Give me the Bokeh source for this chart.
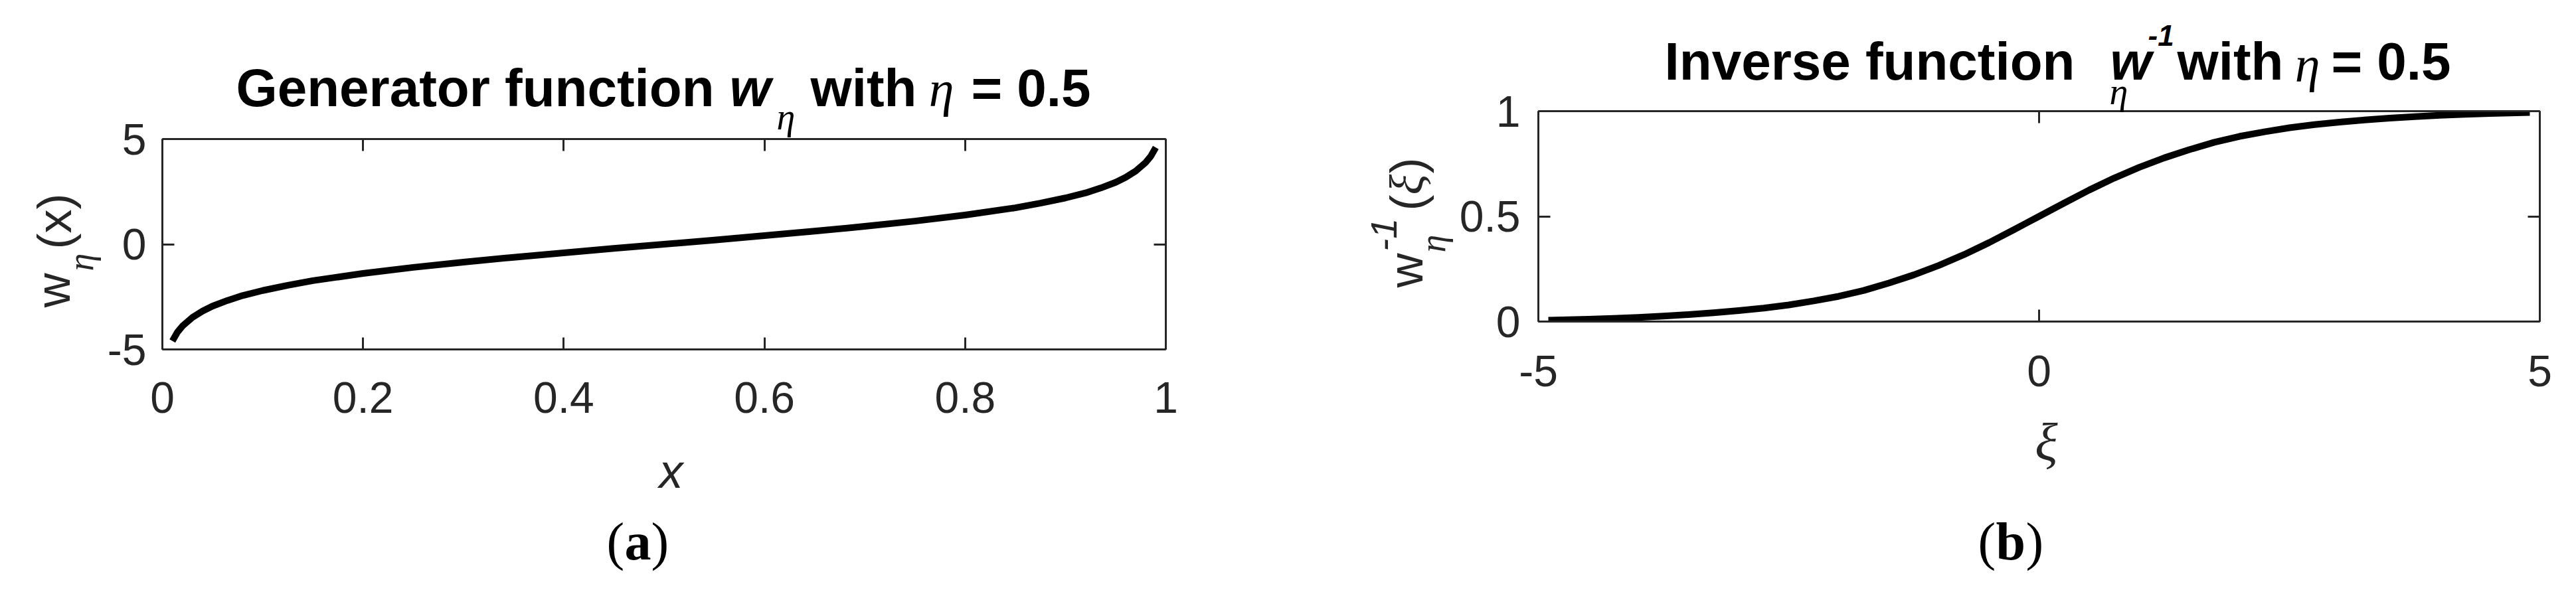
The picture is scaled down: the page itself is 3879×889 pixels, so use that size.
import math
from bokeh.plotting import figure
from bokeh.layouts import row
from bokeh.models import Range1d, FixedTicker, LinearAxis, Label
from bokeh.embed import file_html
from bokeh.resources import INLINE

# ---------------- data ----------------
x_gen = [0.01, 0.015, 0.02, 0.03, 0.04, 0.05, 0.065, 0.08, 0.1, 0.125, 0.15, 0.2, 0.25,
         0.3, 0.35, 0.4, 0.45, 0.5, 0.55, 0.6, 0.65, 0.7, 0.75, 0.8, 0.85, 0.875, 0.9,
         0.92, 0.935, 0.95, 0.96, 0.97, 0.98, 0.985, 0.99]
w_gen = [-4.6, -4.18, -3.89, -3.48, -3.18, -2.94, -2.67, -2.44, -2.2, -1.95, -1.73, -1.39, -1.1,
         -0.85, -0.62, -0.41, -0.2, 0.0, 0.2, 0.41, 0.62, 0.85, 1.1, 1.39, 1.73, 1.95, 2.2,
         2.44, 2.67, 2.94, 3.18, 3.48, 3.89, 4.18, 4.6]

xi_inv = [-4.9, -4.5, -4.25, -4.0, -3.75, -3.5, -3.25, -3.0, -2.75, -2.5, -2.25, -2.0,
          -1.75, -1.5, -1.25, -1.0, -0.75, -0.5, -0.25, 0.0,
          0.25, 0.5, 0.75, 1.0, 1.25, 1.5, 1.75, 2.0, 2.25, 2.5, 2.75, 3.0,
          3.25, 3.5, 3.75, 4.0, 4.25, 4.5, 4.9]
w_inv = [0.006, 0.011, 0.015, 0.020, 0.026, 0.033, 0.042, 0.052, 0.064, 0.079, 0.098, 0.120,
         0.148, 0.183, 0.222, 0.267, 0.318, 0.375, 0.437, 0.5,
         0.563, 0.625, 0.682, 0.733, 0.778, 0.817, 0.852, 0.880, 0.902, 0.921, 0.936, 0.948,
         0.958, 0.967, 0.974, 0.980, 0.985, 0.989, 0.994]

x_ticks_a = [0, 0.2, 0.4, 0.6, 0.8, 1]
x_labels_a = ["0", "0.2", "0.4", "0.6", "0.8", "1"]
y_ticks_a = [-5, 0, 5]
y_labels_a = ["-5", "0", "5"]
x_ticks_b = [-5, 0, 5]
x_labels_b = ["-5", "0", "5"]
y_ticks_b = [0, 0.5, 1]
y_labels_b = ["0", "0.5", "1"]

# ---------------- styling ----------------
AX = "#262626"
SANS = "Liberation Sans"
SERIF = "Liberation Serif"
TICK_FS = "66px"


def style_axes(p, xt, xl, yt, yl, xs, ys):
    for ax, ticks, labels, st in ((p.xaxis[0], xt, xl, xs), (p.yaxis[0], yt, yl, ys)):
        ax.ticker = FixedTicker(ticks=ticks)
        ax.major_label_overrides = {t: l for t, l in zip(ticks, labels)}
        ax.major_tick_in = 18
        ax.major_tick_out = 0
        ax.minor_tick_line_color = None
        ax.axis_line_width = 3
        ax.axis_line_color = AX
        ax.major_tick_line_width = 3
        ax.major_tick_line_color = AX
        ax.major_label_text_font = SANS
        ax.major_label_text_font_size = TICK_FS
        ax.major_label_text_color = AX
        ax.major_label_standoff = st
    for loc, ticks in (("above", xt), ("right", yt)):
        a = LinearAxis(ticker=FixedTicker(ticks=ticks))
        a.major_label_overrides = {t: "" for t in ticks}
        a.major_tick_in = 18
        a.major_tick_out = 0
        a.minor_tick_line_color = None
        a.axis_line_width = 3
        a.axis_line_color = AX
        a.major_tick_line_width = 3
        a.major_tick_line_color = AX
        a.major_label_standoff = 0
        p.add_layout(a, loc)
    p.xgrid.visible = False
    p.ygrid.visible = False
    p.outline_line_color = None


# ---------------- panel (a) ----------------
pa = figure(frame_width=1511, frame_height=317, output_backend="svg", toolbar_location=None,
            x_range=Range1d(0, 1), y_range=Range1d(-5, 5),
            min_border_left=244, min_border_right=177, min_border_top=209, min_border_bottom=347,
            background_fill_color="white", border_fill_color="white")
style_axes(pa, x_ticks_a, x_labels_a, y_ticks_a, y_labels_a, 49, 24)
pa.line(x_gen, w_gen, line_color="black", line_width=10, line_join="round")

# ---------------- panel (b) ----------------
pb = figure(frame_width=1508, frame_height=317, output_backend="svg", toolbar_location=None,
            x_range=Range1d(-5, 5), y_range=Range1d(0, 1),
            min_border_left=384, min_border_right=39, min_border_top=209, min_border_bottom=347,
            background_fill_color="white", border_fill_color="white",
            styles={"transform": "translateY(-42px)"})
style_axes(pb, x_ticks_b, x_labels_b, y_ticks_b, y_labels_b, 51, 27)
pb.line(xi_inv, w_inv, line_color="black", line_width=10, line_join="round")

# ---------------- text overlay (titles, axis titles, panel letters) ----------------
W, H = 3863, 873
ov = figure(width=W, height=H, output_backend="svg", toolbar_location=None,
            x_range=Range1d(0, W), y_range=Range1d(0, H),
            x_axis_type=None, y_axis_type=None,
            min_border=0, min_border_left=0, min_border_right=0, min_border_top=0,
            min_border_bottom=0, background_fill_color=None, border_fill_color=None,
            outline_line_color=None,
            styles={"position": "absolute", "left": "8px", "top": "8px"})

SHIFT = 0.31  # baseline correction (fraction of font size)


def lab(text, ix, iy, font=SANS, size=76, style="normal", align="left", angle=0.0,
        color="black"):
    if angle == 0.0:
        iy = iy - SHIFT * size
    else:
        ix = ix - SHIFT * size
    ov.add_layout(Label(x=ix - 8, y=(8 + H) - iy, x_units="screen", y_units="screen",
                        text=text, text_font=font, text_font_size=f"{size}px",
                        text_font_style=style, text_align=align,
                        text_baseline="alphabetic", angle=angle, text_color=color))


VERT = math.pi / 2

# titles
for t, ix, iy, font, size, style, al in [
    ("Generator function", 715, 157, SANS, 80, "bold", "center"),
    ("w", 1129, 157, SANS, 80, "bold italic", "center"),
    ("η", 1183, 193, SERIF, 56, "italic", "center"),
    ("with", 1300, 157, SANS, 80, "bold", "center"),
    ("η", 1417, 157, SERIF, 76, "italic", "center"),
    ("= 0.5", 1552, 157, SANS, 80, "bold", "center"),
    ("Inverse function", 2815, 117, SANS, 80, "bold", "center"),
    ("w", 3208, 117, SANS, 80, "bold italic", "center"),
    ("-1", 3234, 67, SANS, 44, "bold italic", "left"),
    ("η", 3190, 155, SERIF, 56, "italic", "center"),
    ("with", 3358, 117, SANS, 80, "bold", "center"),
    ("η", 3474, 120, SERIF, 76, "italic", "center"),
    ("= 0.5", 3600, 117, SANS, 80, "bold", "center"),
]:
    lab(t, ix, iy, font, size, style, align=al)

# y-axis titles (vertical)
for t, ix, iy, font, size, style in [
    ("w", 102, 463, SANS, 72, "normal"),
    ("η", 138, 408, SERIF, 54, "italic"),
    ("(x)", 104, 375, SANS, 72, "normal"),
    ("w", 2139, 433, SANS, 72, "normal"),
    ("-1", 2101, 378, SANS, 56, "italic"),
    ("η", 2174, 380, SERIF, 54, "italic"),
    ("(", 2141, 317, SANS, 72, "normal"),
    ("ξ", 2141, 293, SERIF, 72, "italic"),
    (")", 2141, 261, SANS, 72, "normal"),
]:
    lab(t, ix, iy, font, size, style, angle=VERT, color=AX)

# x-axis titles
lab("x", 1010, 732, SANS, 72, "italic", align="center", color=AX)
lab("ξ", 3081, 690, SERIF, 80, "italic", align="center", color=AX)

# panel letters
for t, ix, style in [("(", 913, "normal"), ("a", 940, "bold"), (")", 980, "normal"),
                     ("(", 2978, "normal"), ("b", 3005, "bold"), (")", 3050, "normal")]:
    lab(t, ix, 840, SERIF, 80, style)

layout = row(pa, pb)
open("out.html", "w").write(file_html([layout, ov], INLINE))
